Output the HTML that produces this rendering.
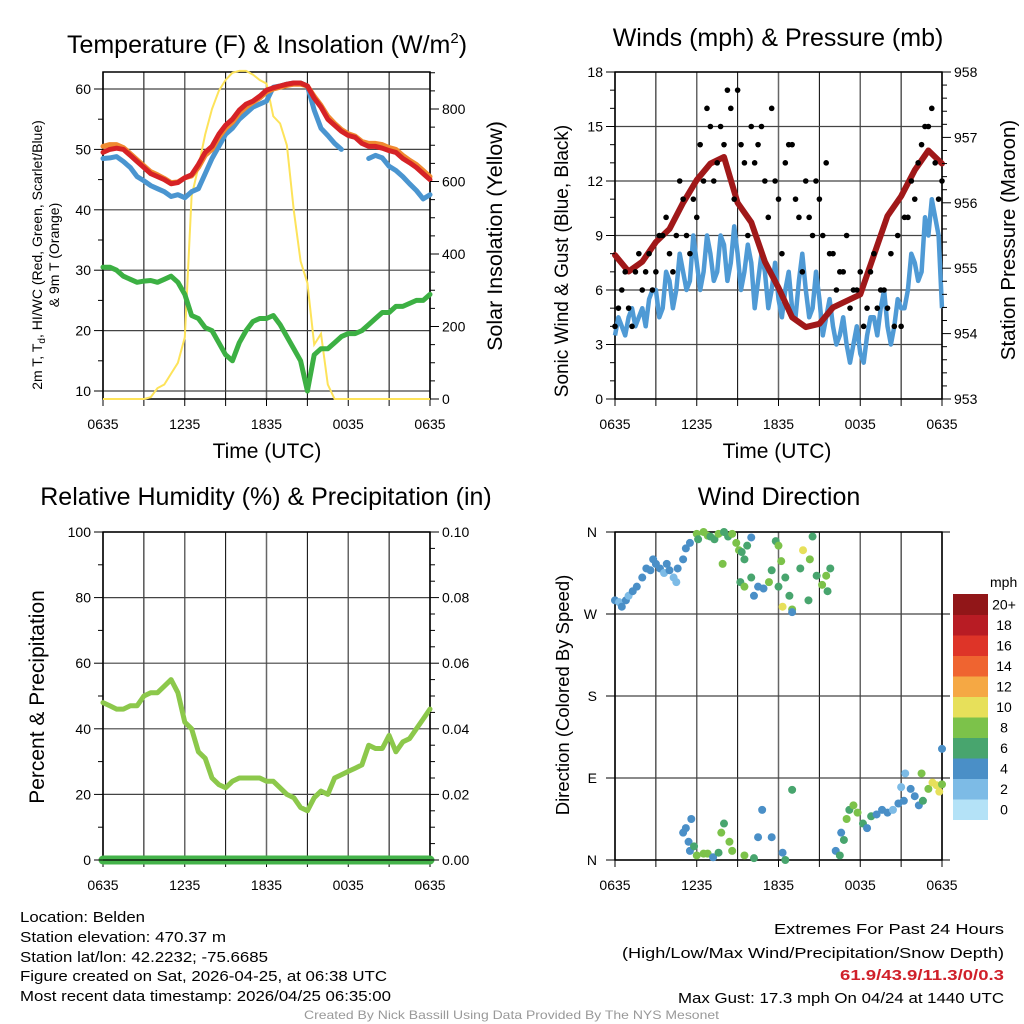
<!DOCTYPE html>
<html><head><meta charset="utf-8"><style>
html,body{margin:0;padding:0;background:#fff}
svg{display:block;font-family:"Liberation Sans",Arial,sans-serif}
</style></head><body>
<svg id="s" width="1024" height="1024" viewBox="0 0 1024 1024" xmlns="http://www.w3.org/2000/svg">
<g id="p1"></g>
<g id="p2"></g>
<g id="p3"></g>
<g id="p4"></g>
<g font-size="15" fill="#000">
<text x="20" y="922" textLength="125" lengthAdjust="spacingAndGlyphs">Location: Belden</text>
<text x="20" y="942" textLength="206" lengthAdjust="spacingAndGlyphs">Station elevation: 470.37 m</text>
<text x="20" y="962" textLength="248" lengthAdjust="spacingAndGlyphs">Station lat/lon: 42.2232; -75.6685</text>
<text x="20" y="981" textLength="367" lengthAdjust="spacingAndGlyphs">Figure created on Sat, 2026-04-25, at 06:38 UTC</text>
<text x="20" y="1001" textLength="371" lengthAdjust="spacingAndGlyphs">Most recent data timestamp: 2026/04/25 06:35:00</text>
</g>
<g font-size="15">
<text x="774" y="934" textLength="230" lengthAdjust="spacingAndGlyphs">Extremes For Past 24 Hours</text>
<text x="622" y="958" textLength="382" lengthAdjust="spacingAndGlyphs">(High/Low/Max Wind/Precipitation/Snow Depth)</text>
<text x="840" y="980" textLength="164" lengthAdjust="spacingAndGlyphs" font-weight="bold" fill="#d0202a">61.9/43.9/11.3/0/0.3</text>
<text x="678" y="1003" textLength="326" lengthAdjust="spacingAndGlyphs">Max Gust: 17.3 mph On 04/24 at 1440 UTC</text>
</g>
<text x="304" y="1019" textLength="415" lengthAdjust="spacingAndGlyphs" font-size="12" fill="#999">Created By Nick Bassill Using Data Provided By The NYS Mesonet</text>
</svg>
<script>
// ---- data (time in hours since 0635) ----
const timeLabels=["0635","1235","1835","0035","0635"];
const tempRed=[49.5,50,50.2,50,49,48,47,46,45.5,45,44.3,44.5,45.3,45.8,47.5,49.5,50.5,52.5,54,55,56.5,57.5,58,58.8,59.8,60.2,60.5,60.8,61,61,60.5,58.5,57,55,54,53,52.3,52,51,50.5,50.5,50.2,49.8,49.5,48.5,47.8,47,46,45];
const tempOrange=[50.5,50.8,50.8,50.3,49.3,48.3,47.3,46.3,45.8,45.2,44.5,44.6,45.3,45.6,47,49,50,52,53.5,54.5,56,57,57.8,58.5,59.5,60,60.3,60.6,60.8,60.8,60.5,58.8,57.3,55.5,54.3,53.3,52.6,52.2,51.3,51,51,50.8,50.3,50,49,48.2,47.5,46.5,45.5];
const tempBlue=[48.5,48.6,48.8,48,47,45.5,44.8,44,43.5,43,42.2,42.5,42,43,43.5,46,48.5,50.5,52.5,53.5,55,56,57,57.5,58,60.3,60.5,60.8,61,61,60.5,56.5,53.5,52.3,51,50,null,49,null,48.5,49,48.6,47.2,46.5,45.5,44.3,43.2,41.8,42.5];
const dewGreen=[30.5,30.5,30,29,28.5,28,28.2,28.3,28,28.5,29,28,26,22.5,22,20.5,20,18,16,15,18,20,21.5,22,22,22.5,21,19,17,15,10,16,17,17,18,19,19.5,19.5,20,21,22,23,23,24,24,24.5,25,25,26];
const solar=[0,0,0,0,0,0,0,5,30,40,70,100,170,560,640,730,800,850,880,900,905,905,895,880,870,780,760,700,520,380,320,150,180,40,0,0,0,0,0,0,0,0,0,0,0,0,0,0,0];
const tempTicks=[10,20,30,40,50,60];
const solarTicks=[0,200,400,600,800];

const pressure=[955.2,954.95,955.1,955.4,955.6,956.0,956.35,956.6,956.7,956.0,955.7,955.1,954.7,954.25,954.1,954.15,954.4,954.5,954.6,955.2,955.8,956.1,956.5,956.8,956.6];
const sonicWind=[3.5,4,4.5,4,5,5.5,6,5,6.5,6,7,6.5,7.5,7,8,7,8.5,7.5,8,7,7.5,6.5,7,6,5.5,6,5,6.5,6,5,5.5,4.5,4,3.5,3,3,2.5,3.5,4.5,5,4,4,5,6,7.5,7,9,10,5];
const sonicB=[4.5,3.5,5,4.5,4,6,4.5,7,5,8,6,9,6,9,6.5,9,6.5,9.5,6,8.5,5,8,5,7.5,4.5,7,4.5,8,4.5,7,3.5,5.5,3,4.5,2,4,2,4.5,3.5,6,3,5.5,5,8,6.5,10,11,9];
const gustA=[4,6,5,7,6,8,7,9,8,9,11,8,10,12,15,13,14,16,17,13,15,14,12,16,11,13,14,10,12,9,11,13,8,7,9,6,7,5,8,6,5,4,4,10,11,14,15,13,12];
const gustB=[5,7,4,8,7,6,9,10,7,12,9,11,14,16,12,15,17,11,14,9,13,15,10,12,8,14,11,7,10,12,9,8,6,7,5,6,4,7,5,6,8,9,10,12,13,15,16,11];
const windTicks=[0,3,6,9,12,15,18];
const pressTicks=[953,954,955,956,957,958];

const rh=[48,47,46,46,47,47,50,51,51,53,55,51,42,40,33,31,25,23,22,24,25,25,25,25,24,24,22,20,19,16,15,19,21,20,25,26,27,28,29,35,34,34,38,33,36,37,40,43,46];
const rhTicks=[0,20,40,60,80,100];
const precipTicks=["0.00","0.02","0.04","0.06","0.08","0.10"];

const dirTime=[0,0.3,0.5,0.8,1,1.3,1.6,2,2.3,2.6,3,3.3,3.6,4,4.3,4.5,5,5.2,5.5,4.6,3.8,2.8,6,6.1,6.5,6.8,7,7.3,7.6,8,8.3,8.6,8.9,9.1,9.3,7.9,9.5,9.7,10,9.2,9.5,10,10.2,10.5,10.9,11.3,11.5,11.8,12,12.2,12.5,12.8,13,13,12.3,13.6,13.8,14.3,14.8,15.2,15.5,15.8,14.5,15.6,14.2,12,5.4,5.6,5.2,5.0,5.5,5.8,6,6.5,6.8,7.2,7.6,7.8,8,8.4,8.6,9.5,10.2,10.5,10.8,11.5,12.3,12.5,13,16.2,16.5,16.8,16.6,17,17.2,17.5,17.8,18.2,18.5,18.8,19.2,19.6,20,20.4,20.8,21.2,21,21.3,21.7,22,22.3,22.6,23,23.3,23.6,24,24,22.5,23.8];
const dirDeg=[285,283,278,285,290,295,300,310,320,318,325,320,315,318,310,305,330,342,348,320,325,330,358,352,360,356,355,352,358,360,355,358,348,340,338,325,330,345,354,305,300,310,290,300,298,305,318,350,345,328,310,290,275,272,278,320,340,330,312,302,312,320,355,295,285,300,20,45,35,30,10,15,5,7,7,3,8,30,40,20,10,5,2,25,55,25,8,0,77,10,5,22,30,45,55,60,52,40,35,48,50,55,52,55,62,65,80,95,78,70,60,65,78,85,82,83,122,95,75];
const dirSpeed=[4,2,4,4,2,4,4,4,4,4,4,4,2,4,2,2,4,4,4,4,4,4,8,6,8,8,6,6,8,6,6,8,8,8,6,8,6,6,4,6,8,6,4,4,4,8,6,6,8,8,6,6,8,4,10,6,10,8,6,8,8,6,6,6,6,6,4,4,4,4,4,6,8,8,8,4,6,8,6,8,8,8,6,4,4,4,4,6,6,4,6,6,4,8,6,8,8,6,4,6,4,4,4,2,4,4,2,2,4,4,4,6,8,10,10,8,4,8,10];
const dirTicks=["N","E","S","W","N"];
const cbLabels=["0","2","4","6","8","10","12","14","16","18","20+"];
const cbColors=["#b4e2f7","#7dbbe6","#4a8fc7","#48a56e","#7cc24a","#e7e05a","#f5a844","#ef6430","#de3428","#b81c24","#911618"];

// ---- helpers ----
const NS="http://www.w3.org/2000/svg";
function mk(parent,tag,attrs,text){const e=document.createElementNS(NS,tag);for(const k in attrs)e.setAttribute(k,attrs[k]);if(text!==undefined)e.textContent=text;parent.appendChild(e);return e;}
function lin(d0,d1,r0,r1){return v=>r0+(v-d0)/(d1-d0)*(r1-r0);}
function seriesPath(xs,ys,xf,yf){let d="",pen=false;for(let i=0;i<ys.length;i++){if(ys[i]===null){pen=false;continue;}d+=(pen?"L":"M")+xf(xs[i]).toFixed(1)+","+yf(ys[i]).toFixed(1);pen=true;}return d;}
const half=n=>Array.from({length:n},(_,i)=>i*0.5);
const hrs=n=>Array.from({length:n},(_,i)=>i);

function frame(g,L,R,T,B,hy,xt){
  for(let h=0;h<=24;h+=3){const x=xt(h);const l=mk(g,"line",{x1:x,y1:T,x2:x,y2:B,stroke:h%6?"#000":"#666","stroke-width":h%6?1:1.5});
    const tk=mk(g,"line",{x1:x,y1:B,x2:x,y2:B+7,stroke:"#000","stroke-width":1});}
  hy.forEach(y=>{const l=mk(g,"line",{x1:L,y1:y,x2:R,y2:y,stroke:"#444","stroke-width":1.2});});
  const fr=mk(g,"rect",{x:L,y:T,width:R-L,height:B-T,fill:"none",stroke:"#000","stroke-width":1.5});
  for(let i=0;i<timeLabels.length;i++){const t=mk(g,"text",{x:xt(i*6),y:B+30,"font-size":14,"text-anchor":"middle"},timeLabels[i]);}
}
function yTicks(g,x,vals,yf,side,fmt,minor){
  vals.forEach(v=>{const y=yf(v);const tk=mk(g,"line",{x1:x,y1:y,x2:x+(side<0?-9:9),y2:y,stroke:"#000"});
    const t=mk(g,"text",{x:x+(side<0?-12:12),y:y+5,"font-size":14,"text-anchor":side<0?"end":"start"},fmt?fmt(v):v);});
  if(minor)minor.forEach(v=>{const y=yf(v);const tk=mk(g,"line",{x1:x,y1:y,x2:x+(side<0?-5:5),y2:y,stroke:"#000"});});
}
function title(g,x,y,txt,size){const t=mk(g,"text",{x:x,y:y,"font-size":size||25,"text-anchor":"middle"});t.textContent=txt;return t;}
function vtitle(g,x,y,txt,size,name){const t=mk(g,"text",{x:0,y:0,"font-size":size,"text-anchor":"middle",transform:`translate(${x},${y}) rotate(-90)`},txt);return t;}

// ---- Panel 1 ----
(function(){
const g=document.getElementById("p1");const L=103,R=430,T=72,B=399;
const xt=lin(0,24,L,R),yt=lin(10,60,391,89),ys=lin(0,800,399,109);
frame(g,L,R,T,B,tempTicks.map(yt),xt);
const sp=mk(g,"path",{d:seriesPath(half(49),solar,xt,ys),fill:"none",stroke:"#fde35a","stroke-width":2});
[[dewGreen,"#3cb043","dewpoint-line"],[tempBlue,"#4a95d0","windchill-line"],[tempOrange,"#f08a30","temp-9m-line"],[tempRed,"#d62226","temp-2m-line"]].forEach(s=>{
  const p=mk(g,"path",{d:seriesPath(half(49),s[0],xt,yt),fill:"none",stroke:s[1],"stroke-width":5,"stroke-linejoin":"round","stroke-linecap":"round"});});
yTicks(g,L,tempTicks,yt,-1,null,[15,25,35,45,55]);
yTicks(g,R,solarTicks,ys,1,null,[100,300,500,700,900,50,150,250,350,450,550,650,750,850]);
const t=title(g,267,53,"Temperature (F) & Insolation (W/m");mk(t,"tspan",{dy:-10,"font-size":15},"2");mk(t,"tspan",{dy:10},")");
const xl=mk(g,"text",{x:267,y:458,"font-size":21,"text-anchor":"middle"},"Time (UTC)");
const yl=mk(g,"text",{x:0,y:0,"font-size":14,"text-anchor":"middle",transform:"translate(42,255) rotate(-90)"});
mk(yl,"tspan",{},"2m T, T");mk(yl,"tspan",{dy:3,"font-size":10},"d");mk(yl,"tspan",{dy:-3},", HI/WC (Red, Green, Scarlet/Blue)");
vtitle(g,59,255,"& 9m T (Orange)",14,"y-axis-title-line2");
vtitle(g,502,236,"Solar Insolation (Yellow)",21.5,"right-axis-title");
})();

// ---- Panel 2 ----
(function(){
const g=document.getElementById("p2");const L=615,R=942,T=72,B=399;
const xt=lin(0,24,L,R),yw=lin(0,18,B,T),yp=lin(953,958,B,T);
frame(g,L,R,T,B,windTicks.map(yw),xt);
const sw=[],st=[];
for(let i=0;i<sonicWind.length;i++){st.push(i*0.5);sw.push(sonicWind[i]);if(i<sonicB.length){st.push(i*0.5+0.25);sw.push(sonicB[i]);}}
const bw=mk(g,"path",{d:seriesPath(st,sw,xt,yw),fill:"none",stroke:"#4f9ad5","stroke-width":4.5,"stroke-linejoin":"round"});
const pl=mk(g,"path",{d:seriesPath(hrs(25),pressure,xt,yp),fill:"none",stroke:"#a01819","stroke-width":6,"stroke-linejoin":"round","stroke-linecap":"round"});
gustA.forEach((v,i)=>{const c=mk(g,"circle",{cx:xt(i*0.5),cy:yw(v),r:2.8,fill:"#000"});});
gustB.forEach((v,i)=>{const c=mk(g,"circle",{cx:xt(i*0.5+0.25),cy:yw(v),r:2.8,fill:"#000"});});
yTicks(g,L,windTicks,yw,-1,null,[1,2,4,5,7,8,10,11,13,14,16,17]);
yTicks(g,R,pressTicks,yp,1,null,[953.2,953.4,953.6,953.8,954.2,954.4,954.6,954.8,955.2,955.4,955.6,955.8,956.2,956.4,956.6,956.8,957.2,957.4,957.6,957.8]);
title(g,778,46,"Winds (mph) & Pressure (mb)");
const xl=mk(g,"text",{x:777,y:458,"font-size":21,"text-anchor":"middle"},"Time (UTC)");
vtitle(g,568,261,"Sonic Wind & Gust (Blue, Black)",19,"y-axis-title");
vtitle(g,1015,240,"Station Pressure (Maroon)",20.5,"right-axis-title");
})();

// ---- Panel 3 ----
(function(){
const g=document.getElementById("p3");const L=103,R=430,T=532,B=860;
const xt=lin(0,24,L,R),yr=lin(0,100,B,T);
frame(g,L,R,T,B,rhTicks.map(yr),xt);
const rl=mk(g,"path",{d:seriesPath(half(49),rh,xt,yr),fill:"none",stroke:"#8cc84b","stroke-width":5,"stroke-linejoin":"round","stroke-linecap":"round"});
const pr=mk(g,"line",{x1:L,y1:B,x2:R,y2:B,stroke:"#44b34a","stroke-width":9,"stroke-linecap":"round"});
mk(g,"line",{x1:L,y1:B,x2:R,y2:B,stroke:"#000","stroke-width":1.2});
yTicks(g,L,rhTicks,yr,-1,null,[10,30,50,70,90]);
yTicks(g,R,rhTicks,yr,1,v=>precipTicks[v/20],[5,10,15,25,30,35,45,50,55,65,70,75,85,90,95]);
title(g,266,505,"Relative Humidity (%) & Precipitation (in)");
vtitle(g,44,697,"Percent & Precipitation",21,"y-axis-title");
})();

// ---- Panel 4 ----
(function(){
const g=document.getElementById("p4");const L=615,R=942,T=532,B=860;
const xt=lin(0,24,L,R),yd=lin(0,360,B,T);
frame(g,L,R,T,B,[0,90,180,270,360].map(yd),xt);
dirTicks.forEach((lab,i)=>{const y=yd(i*90);mk(g,"line",{x1:L-9,y1:y,x2:L,y2:y,stroke:"#000"});mk(g,"line",{x1:R,y1:y,x2:R+8,y2:y,stroke:"#000"});
  const t=mk(g,"text",{x:597,y:y+5,"font-size":14,"text-anchor":"end"},lab);});
dirTime.forEach((tm,i)=>{const c=mk(g,"circle",{cx:xt(tm),cy:yd(dirDeg[i]),r:4,fill:cbColors[Math.min(10,Math.round(dirSpeed[i]/2))]});});
title(g,779,505,"Wind Direction");
vtitle(g,569,695,"Direction (Colored By Speed)",18.5,"y-axis-title");
const cb=mk(g,"g",{});
const cbT=594,cbH=20.5;
cbColors.forEach((c,i)=>{const y=cbT+(10-i)*cbH;const r=mk(cb,"rect",{x:953,y:y,width:35,height:cbH+0.5,fill:c});
  const t=mk(cb,"text",{x:1004,y:y+cbH/2+5,"font-size":14,"text-anchor":"middle"},cbLabels[i]);});
const u=mk(cb,"text",{x:990,y:587,"font-size":14},"mph");
})();
</script>
</body></html>
